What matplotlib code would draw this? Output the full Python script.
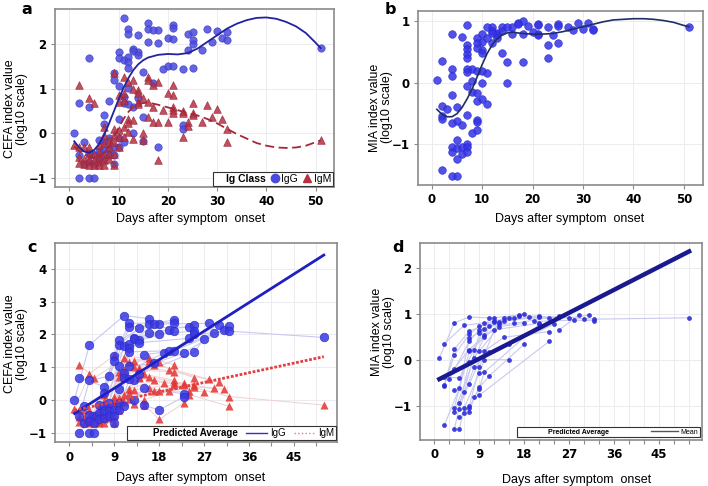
import numpy as np
import matplotlib.pyplot as plt
from matplotlib.lines import Line2D
from matplotlib.ticker import MultipleLocator

plt.rcParams['font.family'] = ['Liberation Sans', 'DejaVu Sans']
plt.rcParams['font.weight'] = 'bold'

# IgG CEFA index, one list per subject (days after onset / log10 value)
igg_days = [[1, 4, 11, 16], [2, 7, 10, 16, 21], [2, 5, 9, 12, 21], [2, 4, 8, 12, 18],
            [3, 7, 10, 14, 24], [3, 6, 9, 13, 20], [4, 7, 11, 16, 25], [4, 8, 10, 14, 21],
            [4, 6, 12, 17, 28], [5, 7, 13, 18, 25], [5, 8, 12, 14, 24], [6, 9, 11, 19, 29],
            [7, 10, 12, 20, 30], [8, 11, 15, 21, 31], [9, 12, 17, 23, 32], [9, 10, 13, 25, 32, 51],
            [10, 12, 14, 25, 27], [11, 13, 15, 23], [15, 18, 23]]
igg_vals = [[0.0, 1.68, 2.58, 2.48], [0.68, 0.4, 1.82, 2.33, 2.44], [-1.0, -0.5, 1.35, 2.34, 2.36],
            [-0.5, 0.6, 0.72, 2.22, 2.32], [-0.2, 0.2, 1.68, 2.2, 2.22], [-0.7, -0.15, 1.2, 1.9, 2.14],
            [-1.0, -0.2, 1.65, 2.04, 2.28], [-0.45, -0.1, 1.05, 1.82, 2.11], [-0.65, -0.4, 1.72, 2.32, 2.34],
            [-1.0, -0.35, 1.85, 2.02, 2.1], [-0.7, -0.35, 1.6, 1.75, 1.88], [-0.6, -0.3, 0.82, 1.44, 2.04],
            [-0.55, 0.33, 1.47, 1.5, 2.3], [-0.5, 0.67, 1.38, 1.5, 2.14], [-0.5, 1.02, 1.12, 1.44, 2.27],
            [-0.7, -0.1, 0.6, 2.0, 2.1, 1.91], [-0.3, 0.65, 0.78, 1.46, 1.87], [-0.2, 0.0, 0.37, 0.18],
            [-0.17, -0.31, 0.1]]

# IgM CEFA index, one list per subject
igm_days = [[1, 4, 9, 16, 21], [2, 5, 11, 16, 25], [2, 4, 7, 10, 13, 18], [2, 3, 6, 10, 13, 17, 28],
            [2, 3, 6, 9, 11, 14, 20], [3, 4, 7, 11, 14, 21, 30], [4, 5, 7, 9, 12, 15, 21],
            [4, 6, 8, 10, 14, 16, 23], [5, 7, 9, 11, 14, 19, 25], [5, 6, 8, 12, 17, 21, 29],
            [6, 8, 10, 13, 16, 21, 31], [7, 9, 12, 17, 23, 32, 51], [7, 8, 10, 12, 18, 24, 27],
            [9, 11, 13, 15, 20, 25], [15, 18, 23, 24, 32]]
igm_vals = [[-0.27, 0.8, 1.36, 1.27, 1.08], [1.08, 0.67, 1.27, 1.2, 0.67], [-0.3, -0.3, 0.14, 0.86, 1.2, 1.16],
            [-0.53, -0.3, -0.27, 0.71, 1.0, 1.08, 0.63], [-0.67, -0.57, -0.42, 0.1, 0.9, 0.97, 0.9],
            [-0.7, -0.46, -0.05, 0.75, 0.9, 0.86, 0.54], [-0.6, -0.46, -0.23, -0.05, 1.16, 0.78, 0.6],
            [-0.72, -0.53, -0.16, 0.07, 0.71, 0.7, 0.5], [-0.6, -0.46, -0.2, 0.14, 0.66, 0.52, 0.45],
            [-0.72, -0.64, -0.3, 0.33, 0.6, 0.52, 0.36], [-0.72, -0.46, -0.08, 0.3, 0.37, 0.45, 0.32],
            [-0.6, -0.46, 0.22, 0.26, 0.45, 0.1, -0.16], [-0.72, -0.57, -0.3, 0.03, 0.26, 0.26, 0.25],
            [-0.72, -0.08, -0.12, 0.0, 0.26, 0.4], [-0.15, -0.6, -0.09, 0.16, -0.2]]

# MIA index, one list per subject
mia_days = [[1, 4, 7, 12], [2, 6, 10, 16], [2, 5, 8, 11, 17], [2, 4, 7, 12, 18], [2, 4, 7, 9, 13],
            [2, 5, 7, 10, 14], [3, 7, 9, 13], [4, 7, 10, 14, 21], [4, 6, 9, 12, 21], [4, 7, 10, 15, 23],
            [4, 8, 11, 16, 25], [4, 7, 9, 13, 18], [5, 7, 10, 14, 23], [5, 8, 11, 15, 24],
            [5, 7, 9, 12, 21], [5, 6, 9, 10, 15], [6, 7, 9, 11, 18], [7, 8, 9, 10, 21], [9, 23],
            [17, 25, 32, 51], [19, 27, 31], [20, 28, 32], [25, 29], [30]]
mia_vals = [[0.04, 0.8, 0.93, 0.9], [0.35, 0.75, 0.8, 0.9], [-0.38, -0.39, 0.22, 0.9, 0.97],
            [-0.54, 0.23, 0.62, 0.84, 1.0], [-0.58, 0.11, 0.55, 0.73, 0.81], [-1.42, -0.62, 0.47, 0.66, 0.9],
            [-0.42, 0.4, 0.65, 0.77], [-0.19, 0.22, 0.53, 0.84, 0.96], [-0.65, -0.69, 0.57, 0.81, 0.93],
            [-1.04, 0.18, 0.49, 0.9, 0.9], [-1.13, 0.03, 0.73, 0.79, 0.95], [-1.51, -0.05, 0.19, 0.72, 0.79],
            [-0.93, -0.52, 0.19, 0.49, 0.61], [-1.06, -0.15, 0.16, 0.34, 0.77], [-1.24, -1.0, -0.16, 0.65, 0.79],
            [-1.51, -1.04, -0.29, 0.0, 0.0], [-1.15, -1.04, -0.6, -0.35, 0.34], [-1.13, -0.81, -0.63, -0.27, 0.77],
            [-0.77, 0.4], [0.96, 0.92, 0.88, 0.91], [0.92, 0.91, 0.97], [0.83, 0.86, 0.85], [0.65, 0.97], [0.88]]

# smoothed fits (panels a, b)
igg_fit_day = [1, 2, 3, 4, 5, 6, 7, 8, 9, 10, 11, 12, 13, 14, 15, 16, 18, 20, 22, 24, 26, 28, 30,
               32, 34, 36, 38, 40, 42, 44, 46, 48, 50, 51]
igg_fit_val = [-0.18, -0.32, -0.41, -0.44, -0.38, -0.25, -0.05, 0.2, 0.48, 0.76, 1.02, 1.24, 1.42,
               1.55, 1.64, 1.7, 1.76, 1.78, 1.77, 1.8, 1.9, 2.05, 2.2, 2.35, 2.46, 2.54, 2.59, 2.6,
               2.57, 2.5, 2.4, 2.25, 2.03, 1.91]
igm_fit_day = [1, 2, 3, 4, 5, 6, 7, 8, 9, 10, 11, 12, 13, 14, 16, 18, 20, 22, 24, 26, 28, 30, 32,
               34, 36, 38, 40, 42, 44, 46, 48, 50, 51]
igm_fit_val = [-0.3, -0.4, -0.48, -0.52, -0.54, -0.52, -0.45, -0.3, -0.1, 0.12, 0.32, 0.48, 0.6,
               0.66, 0.69, 0.64, 0.58, 0.52, 0.45, 0.4, 0.32, 0.22, 0.1, -0.02, -0.12, -0.22, -0.28,
               -0.32, -0.33, -0.32, -0.28, -0.2, -0.16]
mia_fit_day = [1, 2, 3, 4, 5, 6, 7, 8, 9, 10, 11, 12, 13, 14, 15, 16, 18, 20, 22, 24, 26, 28, 30,
               32, 34, 36, 38, 40, 42, 44, 46, 48, 50, 51]
mia_fit_val = [-0.43, -0.51, -0.55, -0.55, -0.5, -0.4, -0.26, -0.1, 0.1, 0.3, 0.48, 0.62, 0.72,
               0.78, 0.81, 0.82, 0.8, 0.79, 0.79, 0.8, 0.83, 0.87, 0.91, 0.95, 0.99, 1.02, 1.03,
               1.04, 1.04, 1.03, 1.01, 0.98, 0.93, 0.91]

# predicted averages (panels c, d)
pred_day = [1, 51]
igg_pred = [-0.42, 4.43]
igm_pred = [-0.32, 1.32]
mia_pred = [-0.42, 2.35]

XLAB = 'Days after symptom  onset'


def flat(nested):
    return np.concatenate([np.asarray(s, float) for s in nested])


def style(ax, xlim, ylim, xstep, xminor=None):
    ax.set_xlim(xlim)
    ax.set_ylim(ylim)
    ax.xaxis.set_major_locator(MultipleLocator(xstep))
    ax.yaxis.set_major_locator(MultipleLocator(1))
    if xminor:
        ax.xaxis.set_minor_locator(MultipleLocator(xminor))
    ax.grid(True, which='both', color='#ebebf0', lw=0.7)
    ax.set_axisbelow(True)
    for s in ax.spines.values():
        s.set_color('#8a8a8a')
        s.set_linewidth(1.2)
    ax.tick_params(which='both', direction='out', color='#8a8a8a', length=3, width=0.8,
                   labelsize=8.5, pad=3, labelfontfamily='DejaVu Sans')


fig = plt.figure(figsize=(7.08, 4.86), dpi=100)
ax_a = fig.add_axes([0.0777, 0.615, 0.394, 0.3665])
ax_b = fig.add_axes([0.590, 0.619, 0.403, 0.359])
ax_c = fig.add_axes([0.0777, 0.0899, 0.398, 0.4095])
ax_d = fig.add_axes([0.593, 0.0947, 0.398, 0.406])

# ---- a
style(ax_a, (-2.9, 53.7), (-1.21, 2.79), 10)
ax_a.scatter(flat(igg_days), flat(igg_vals), s=28, marker='o', color='#4a4ae0', alpha=0.85,
             edgecolors='#3a3ac0', linewidths=0.5, zorder=3)
ax_a.scatter(flat(igm_days), flat(igm_vals), s=30, marker='^', color='#b53245', alpha=0.85,
             edgecolors='#9a2535', linewidths=0.5, zorder=3)
ax_a.plot(igg_fit_day, igg_fit_val, color='#2222a0', lw=1.3, zorder=4)
ax_a.plot(igm_fit_day, igm_fit_val, color='#a52838', lw=1.3, ls=(0, (5, 2.5)), zorder=4)
h = [Line2D([], [], lw=0),
     Line2D([], [], ls='', marker='o', ms=6, color='#4a4ae0'),
     Line2D([], [], ls='', marker='^', ms=6, color='#b53245')]
leg = ax_a.legend(h, ['Ig Class', 'IgG', 'IgM'], ncol=3, loc='lower right',
                  bbox_to_anchor=(0.997, 0.008), borderaxespad=0, fontsize=7.5,
                  handlelength=0.7, handletextpad=0.3, columnspacing=0.5, borderpad=0.2,
                  fancybox=False, edgecolor='#333333', framealpha=1)
for t in leg.get_texts()[1:]:
    t.set_fontweight('normal')
leg.get_frame().set_linewidth(0.8)
ax_a.set_ylabel('CEFA index value\n(log10 scale)', fontsize=9, linespacing=1.0)
ax_a.yaxis.set_label_coords(-0.097, 0.438)
ax_a.set_xlabel(XLAB, fontsize=9)
ax_a.xaxis.set_label_coords(0.485, -0.145)

# ---- b
style(ax_b, (-2.8, 53.8), (-1.66, 1.17), 10)
ax_b.scatter(flat(mia_days), flat(mia_vals), s=30, color='#3434e6', alpha=0.85,
             edgecolors='#2a2ad0', linewidths=0.5, zorder=3)
ax_b.plot(mia_fit_day, mia_fit_val, color='#1f2f66', lw=1.2, zorder=4)
ax_b.set_ylabel('MIA index value\n(log10 scale)', fontsize=9, linespacing=1.0)
ax_b.yaxis.set_label_coords(-0.087, 0.445)
ax_b.set_xlabel(XLAB, fontsize=9)
ax_b.xaxis.set_label_coords(0.534, -0.16)

# ---- c
style(ax_c, (-2.9, 53.6), (-1.3, 4.79), 9, xminor=4.5)
for d, v in zip(igg_days, igg_vals):
    ax_c.plot(d, v, color='#c9c9ef', lw=0.8, zorder=2)
for d, v in zip(igm_days, igm_vals):
    ax_c.plot(d, v, color='#f0d0d0', lw=0.7, zorder=2)
ax_c.scatter(flat(igm_days), flat(igm_vals), s=34, marker='^', color='#e23434', alpha=0.85,
             linewidths=0, zorder=3)
ax_c.scatter(flat(igg_days), flat(igg_vals), s=38, marker='o', color='#3838e4', alpha=0.85,
             edgecolors='#2a2ac8', linewidths=0.5, zorder=3)
ax_c.plot(pred_day, igg_pred, color='#2020c0', lw=2, zorder=4)
ax_c.plot(pred_day, igm_pred, color='#e04040', lw=2, ls=(0, (1, 0.6)), zorder=4)
h = [Line2D([], [], lw=0),
     Line2D([], [], color='#3030c8', lw=1),
     Line2D([], [], color='#e08080', lw=1, ls=':')]
leg = ax_c.legend(h, ['Predicted Average', 'IgG', 'IgM'], ncol=3, loc='lower right',
                  bbox_to_anchor=(0.997, 0.01), borderaxespad=0, fontsize=7,
                  handlelength=2.2, handletextpad=0.3, columnspacing=0.8, borderpad=0.2,
                  fancybox=False, edgecolor='#333333', framealpha=1)
for t in leg.get_texts()[1:]:
    t.set_fontweight('normal')
leg.get_frame().set_linewidth(0.8)
ax_c.set_ylabel('CEFA index value\n(log10 scale)', fontsize=9, linespacing=1.0)
ax_c.yaxis.set_label_coords(-0.096, 0.494)
ax_c.set_xlabel(XLAB, fontsize=9)
ax_c.xaxis.set_label_coords(0.482, -0.15)

# ---- d
style(ax_d, (-2.9, 53.5), (-1.74, 2.54), 9, xminor=3)
for d, v in zip(mia_days, mia_vals):
    ax_d.plot(d, v, color='#c9c9ef', lw=0.8, zorder=2)
ax_d.scatter(flat(mia_days), flat(mia_vals), s=12, color='#2c2cd8', alpha=0.9,
             linewidths=0, zorder=3)
ax_d.plot(pred_day, mia_pred, color='#1a1a90', lw=3.2, zorder=4)
h = [Line2D([], [], lw=0), Line2D([], [], color='#555555', lw=1)]
leg = ax_d.legend(h, ['Predicted Average', 'Mean'], ncol=2, loc='lower right',
                  bbox_to_anchor=(0.993, 0.015), borderaxespad=0, fontsize=5,
                  handlelength=4, handletextpad=0.3, columnspacing=6, borderpad=0.2,
                  fancybox=False, edgecolor='#333333', framealpha=1)
leg.get_texts()[1].set_fontweight('normal')
leg.get_frame().set_linewidth(0.8)
ax_d.set_ylabel('MIA index value\n(log10 scale)', fontsize=9, linespacing=1.0)
ax_d.yaxis.set_label_coords(-0.089, 0.547)
ax_d.set_xlabel(XLAB, fontsize=9)
ax_d.xaxis.set_label_coords(0.556, -0.17)

for lab, x, y in [('a', 0.038, 0.98), ('b', 0.552, 0.98), ('c', 0.045, 0.49), ('d', 0.562, 0.49)]:
    fig.text(x, y, lab, fontsize=11.5, fontweight='bold', ha='center', va='center',
             family='DejaVu Sans')

fig.savefig('out.png', dpi=100)
